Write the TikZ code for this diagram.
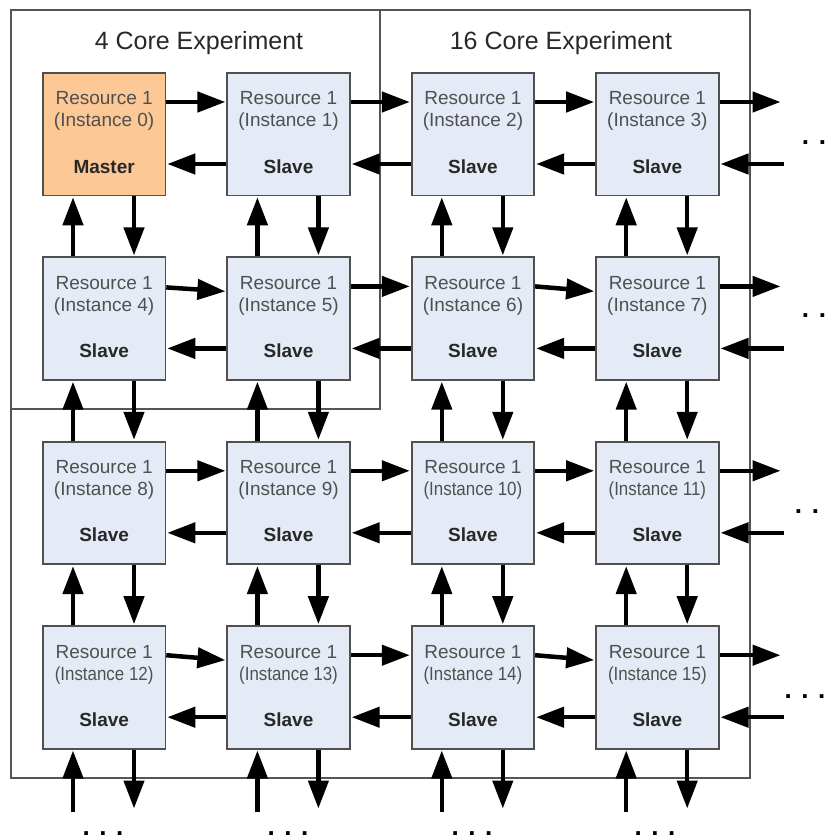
\documentclass[tikz,border=0pt]{standalone}
\usepackage{fontspec}
\usepackage{graphicx}
\setmainfont{Liberation Sans}
\usetikzlibrary{arrows.meta}

\definecolor{slavefill}{RGB}{228,234,246}
\definecolor{masterfill}{RGB}{252,200,150}
\definecolor{boxline}{RGB}{80,80,80}
\definecolor{frameline}{RGB}{85,85,85}
\definecolor{nametext}{RGB}{80,80,80}
\definecolor{roletext}{RGB}{40,40,40}

\tikzset{
  core/.style={draw=boxline, line width=1.8pt, minimum width=122.5pt,
    minimum height=122.5pt, inner sep=0pt, anchor=north west},
  frame/.style={draw=frameline, line width=1.6pt},
  title/.style={font=\fontsize{25}{30}\selectfont, text=roletext, inner sep=0pt, anchor=base},
  nametxt/.style={font=\fontsize{19}{22}\selectfont, text=nametext, inner sep=0pt, anchor=base},
  roletxt/.style={font=\fontsize{19}{22}\selectfont\bfseries, text=roletext, inner sep=0pt, anchor=base},
  link/.style={line width=4.5pt, -{Triangle[length=28pt,width=20pt]}, shorten >=1pt},
  more/.style={font=\fontsize{26}{26}\selectfont\bfseries, inner sep=0pt}
}

\begin{document}
\begin{tikzpicture}[x=1pt,y=-1pt]
\useasboundingbox (0,0) rectangle (825,840);

% experiment frames
\draw[frame] (11,10) rectangle (750,778);
\draw[frame] (11,10) rectangle (380,409);
\node[title] (t4) at (199,50) {4 Core Experiment};
\node[title] (t16) at (561,50) {16 Core Experiment};

% the 4x4 grid of resource instances
\foreach \i in {0,...,15}{
  \pgfmathtruncatemacro\c{mod(\i,4)}
  \pgfmathtruncatemacro\r{int(\i/4)}
  \pgfmathsetmacro\bx{42+184.4*\c}
  \pgfmathsetmacro\by{72+184.4*\r}
  \ifnum\i=0 \def\fc{masterfill}\def\role{Master}\else \def\fc{slavefill}\def\role{Slave}\fi
  \ifnum\i<10 \def\isx{1}\else \def\isx{0.89}\fi
  \node[core, fill=\fc] (b\i) at (\bx,\by) {};
  \node[nametxt] (n\i) at ([yshift=-33pt]b\i.north) {Resource 1};
  \node[nametxt] (m\i) at ([yshift=-55pt]b\i.north) {\scalebox{\isx}[1]{(Instance \i)}};
  \node[roletxt] (k\i) at ([yshift=-101pt]b\i.north) {\role};
}

% horizontal links inside each row
\foreach \i/\s/\e in {0/30pt/30pt,1/30pt/30pt,2/30pt/30pt,
                      4/31pt/35pt,5/30pt/30pt,6/30pt/35pt,
                      8/30pt/30pt,9/30pt/30pt,10/30pt/30pt,
                      12/30pt/35pt,13/30pt/30pt,14/30pt/35pt}{
  \pgfmathtruncatemacro\j{\i+1}
  \draw[link] ([yshift=-\s]b\i.north east) -- ([yshift=-\e]b\j.north west);
  \draw[link] ([yshift=-92pt]b\j.north west) -- ([yshift=-92pt]b\i.north east);
}

% vertical links between rows
\foreach \i in {0,...,11}{
  \pgfmathtruncatemacro\k{\i+4}
  \draw[link] ([xshift=31pt]b\k.north west) -- ([xshift=31pt]b\i.south west);
  \draw[link] ([xshift=92pt]b\i.south west) -- ([xshift=92pt]b\k.north west);
}

% links leaving the grid on the right
\foreach \r in {0,...,3}{
  \pgfmathtruncatemacro\i{4*\r+3}
  \coordinate (eo\r) at ([xshift=62pt,yshift=-30pt]b\i.north east);
  \coordinate (ei\r) at ([xshift=64pt,yshift=-92pt]b\i.north east);
  \draw[link] ([yshift=-30pt]b\i.north east) -- (eo\r);
  \draw[link] (ei\r) -- ([yshift=-92pt]b\i.north east);
}

% links leaving the grid at the bottom
\foreach \c in {0,...,3}{
  \pgfmathtruncatemacro\i{12+\c}
  \coordinate (so\c) at ([xshift=31pt,yshift=-62pt]b\i.south west);
  \coordinate (si\c) at ([xshift=92pt,yshift=-60pt]b\i.south west);
  \draw[link] (so\c) -- ([xshift=31pt]b\i.south west);
  \draw[link] ([xshift=92pt]b\i.south west) -- (si\c);
}

% continuation marks
\node[more] (d0) at (814,143) {. .};
\node[more] (d1) at (814,316) {. .};
\node[more] (d2) at (807,512) {. .};
\node[more] (d3) at (805,697) {. . .};
\node[more] (d4) at (103,834) {. . .};
\node[more] (d5) at (288,834) {. . .};
\node[more] (d6) at (472,834) {. . .};
\node[more] (d7) at (655,834) {. . .};
\end{tikzpicture}
\end{document}
